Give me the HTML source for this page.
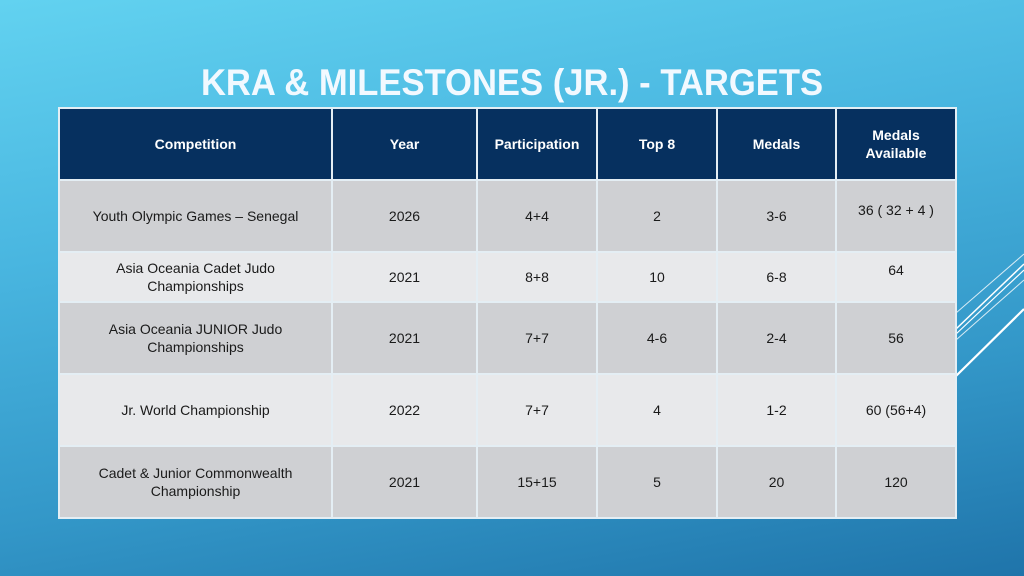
<!DOCTYPE html>
<html><head><meta charset="utf-8">
<style>
html,body{margin:0;padding:0}
body{width:1024px;height:576px;overflow:hidden;position:relative;font-family:"Liberation Sans",sans-serif;
background:linear-gradient(170deg,#62d2f0 0%,#49b6e0 35%,#3397c8 70%,#1f74aa 100%);}
#title{position:absolute;left:0;width:1024px;top:62px;text-align:center;color:#f2f9ff;font-weight:bold;font-size:37px;transform:scaleX(0.935);transform-origin:512px 0}
table{position:absolute;left:58px;top:107px;border-collapse:collapse;table-layout:fixed}
td,th{border:2px solid #e4eef4;text-align:center;font-size:14px;color:#1a1a1a;padding:0 6px;line-height:18px}
th{background:#06305f;color:#fff;font-weight:bold;height:70px}
tr.d td{background:#cfd0d3}
tr.l td{background:#e8e9eb}
td.top{vertical-align:top;padding-top:12px}
</style></head><body>
<svg style="position:absolute;left:0;top:0" width="1024" height="576">
<g stroke="#ffffff" fill="none">
<line x1="956" y1="313" x2="1024" y2="254" stroke-width="1" opacity="0.8"/>
<line x1="956" y1="329" x2="1024" y2="264" stroke-width="1.5"/>
<line x1="956" y1="334" x2="1024" y2="270" stroke-width="1.2"/>
<line x1="956" y1="340" x2="1024" y2="280" stroke-width="1" opacity="0.8"/>
<line x1="956" y1="376" x2="1024" y2="309" stroke-width="2.2"/>
</g></svg>
<div id="title">KRA &amp; MILESTONES (JR.) - TARGETS</div>
<table>
<colgroup><col style="width:273px"><col style="width:145px"><col style="width:120px"><col style="width:120px"><col style="width:119px"><col style="width:120px"></colgroup>
<tr><th>Competition</th><th>Year</th><th>Participation</th><th>Top 8</th><th>Medals</th><th>Medals<br>Available</th></tr>
<tr class="d" style="height:72px"><td>Youth Olympic Games – Senegal</td><td>2026</td><td>4+4</td><td>2</td><td>3-6</td><td class="top" style="padding-top:20px">36 ( 32 + 4 )</td></tr>
<tr class="l" style="height:50px"><td>Asia Oceania Cadet Judo<br>Championships</td><td>2021</td><td>8+8</td><td>10</td><td>6-8</td><td class="top" style="padding-top:8px">64</td></tr>
<tr class="d" style="height:72px"><td>Asia Oceania JUNIOR Judo<br>Championships</td><td>2021</td><td>7+7</td><td>4-6</td><td>2-4</td><td>56</td></tr>
<tr class="l" style="height:72px"><td>Jr. World Championship</td><td>2022</td><td>7+7</td><td>4</td><td>1-2</td><td>60 (56+4)</td></tr>
<tr class="d" style="height:72px"><td>Cadet &amp; Junior Commonwealth<br>Championship</td><td>2021</td><td>15+15</td><td>5</td><td>20</td><td>120</td></tr>
</table>
</body></html>
